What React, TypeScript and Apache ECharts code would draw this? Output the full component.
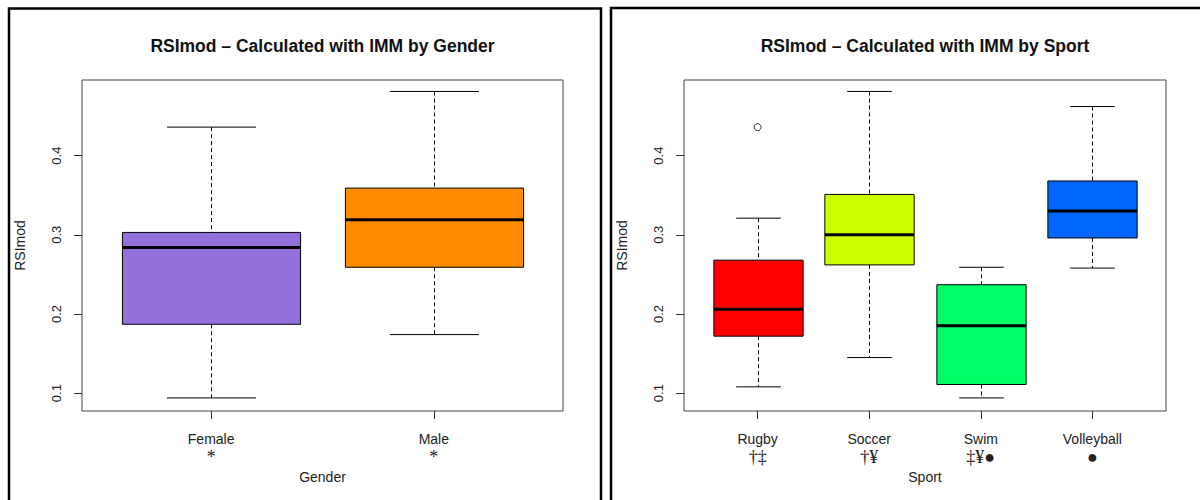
import React, { useEffect, useRef } from "react";
import * as echarts from "echarts";

// ---- Data ----
const GENDER_CATS = ["Female", "Male"];
const GENDER_MARKS = ["*", "*"];
// [lower whisker, Q1, median, Q3, upper whisker]
const GENDER_STATS = [
  [0.094, 0.187, 0.284, 0.303, 0.436],
  [0.174, 0.259, 0.319, 0.359, 0.481],
];
const GENDER_COLORS = ["#9370DB", "#FF8C00"];

const SPORT_CATS = ["Rugby", "Soccer", "Swim", "Volleyball"];
const SPORT_MARKS = ["†‡", "†¥", "‡¥●", "●"];
const SPORT_STATS = [
  [0.108, 0.172, 0.206, 0.268, 0.321],
  [0.145, 0.262, 0.3, 0.351, 0.481],
  [0.094, 0.111, 0.185, 0.237, 0.259],
  [0.258, 0.296, 0.33, 0.368, 0.462],
];
const SPORT_COLORS = ["#FF0000", "#CCFF00", "#00FF66", "#0066FF"];
// [category index (1-based), value]
const SPORT_OUTLIERS = [[1, 0.436]];

const Y_TICKS = [0.1, 0.2, 0.3, 0.4];
const Y_MIN = 0.0775;
const Y_MAX = 0.4955;

const FONT = '"Liberation Sans", Arial, sans-serif';
const SERIF = '"Liberation Serif", "DejaVu Serif", serif';

function makeRender(colors: string[]) {
  return (params: any, api: any) => {
    const x = api.value(0);
    const lo = api.coord([x, api.value(1)]);
    const q1 = api.coord([x, api.value(2)]);
    const md = api.coord([x, api.value(3)]);
    const q3 = api.coord([x, api.value(4)]);
    const hi = api.coord([x, api.value(5)]);
    const w = api.size([0.8, 0])[0];
    const cx = Math.round(lo[0]) + 0.5;
    const dashed = { stroke: "#000", lineWidth: 1, lineDash: [4, 3] };
    const solid = { stroke: "#000", lineWidth: 1 };
    return {
      type: "group",
      children: [
        { type: "line", shape: { x1: cx, y1: hi[1], x2: cx, y2: q3[1] }, style: dashed },
        { type: "line", shape: { x1: cx, y1: q1[1], x2: cx, y2: lo[1] }, style: dashed },
        { type: "line", shape: { x1: cx - w / 4, y1: hi[1], x2: cx + w / 4, y2: hi[1] }, style: solid },
        { type: "line", shape: { x1: cx - w / 4, y1: lo[1], x2: cx + w / 4, y2: lo[1] }, style: solid },
        {
          type: "rect",
          shape: { x: cx - w / 2, y: q3[1], width: w, height: q1[1] - q3[1] },
          style: { fill: colors[params.dataIndex], stroke: "#000", lineWidth: 1 },
        },
        { type: "line", shape: { x1: cx - w / 2, y1: md[1], x2: cx + w / 2, y2: md[1] }, style: { stroke: "#000", lineWidth: 3 } },
      ],
    };
  };
}

function xAxisFor(idx: number, cats: string[], marks: string[], name: string) {
  const n = cats.length;
  const ext = n * 0.04;
  const vals = cats.map((_, i) => i + 1);
  return {
    type: "value",
    gridIndex: idx,
    min: 0.5 - ext,
    max: n + 0.5 + ext,
    name,
    nameLocation: "middle",
    nameGap: 54,
    nameTextStyle: { fontFamily: FONT, fontSize: 14, color: "#222" },
    axisLine: { show: false, onZero: false },
    splitLine: { show: false },
    axisTick: { show: true, length: 8, customValues: vals, lineStyle: { color: "#333" } },
    axisLabel: {
      customValues: vals,
      margin: 19,
      formatter: (v: number) => {
        const i = Math.round(v) - 1;
        return `{a|${cats[i]}}\n{b|${marks[i]}}`;
      },
      rich: {
        a: { fontFamily: FONT, fontSize: 14, color: "#222", lineHeight: 17 },
        b: { fontFamily: SERIF, fontSize: 18, color: "#222", lineHeight: 19 },
      },
    },
  };
}

function yAxisFor(idx: number) {
  return {
    type: "value",
    gridIndex: idx,
    min: Y_MIN,
    max: Y_MAX,
    name: "RSImod",
    nameLocation: "middle",
    nameGap: 55,
    nameTextStyle: { fontFamily: FONT, fontSize: 14, color: "#222" },
    axisLine: { show: false },
    splitLine: { show: false },
    axisTick: { show: true, length: 8, customValues: Y_TICKS, lineStyle: { color: "#333" } },
    axisLabel: {
      customValues: Y_TICKS,
      rotate: 90,
      margin: 19,
      fontFamily: FONT,
      fontSize: 13,
      color: "#222",
      formatter: (v: number) => v.toFixed(1),
    },
  };
}

export default function App() {
  const ref = useRef<HTMLDivElement>(null);
  useEffect(() => {
    document.body.style.margin = "0";
    const chart = echarts.init(ref.current!, null, { renderer: "svg" });
    const genderData = GENDER_STATS.map((s, i) => [i + 1, ...s]);
    const sportData = SPORT_STATS.map((s, i) => [i + 1, ...s]);
    chart.setOption({
      animation: false,
      backgroundColor: "#fff",
      grid: [
        { left: 82, top: 80, width: 481, height: 331, show: true, borderColor: "#444", borderWidth: 1, backgroundColor: "transparent" },
        { left: 684, top: 80, width: 482, height: 331, show: true, borderColor: "#444", borderWidth: 1, backgroundColor: "transparent" },
      ],
      xAxis: [
        xAxisFor(0, GENDER_CATS, GENDER_MARKS, "Gender"),
        xAxisFor(1, SPORT_CATS, SPORT_MARKS, "Sport"),
      ],
      yAxis: [yAxisFor(0), yAxisFor(1)],
      series: [
        {
          type: "custom",
          xAxisIndex: 0,
          yAxisIndex: 0,
          data: genderData,
          encode: { x: 0, y: [1, 2, 3, 4, 5] },
          renderItem: makeRender(GENDER_COLORS),
        },
        {
          type: "custom",
          xAxisIndex: 1,
          yAxisIndex: 1,
          data: sportData,
          encode: { x: 0, y: [1, 2, 3, 4, 5] },
          renderItem: makeRender(SPORT_COLORS),
        },
        {
          type: "scatter",
          xAxisIndex: 1,
          yAxisIndex: 1,
          data: SPORT_OUTLIERS,
          symbol: "circle",
          symbolSize: 7,
          itemStyle: { color: "#fff", borderColor: "#000", borderWidth: 1 },
        },
      ],
      graphic: [
        {
          type: "rect",
          shape: { x: 9, y: 8.5, width: 592, height: 520 },
          style: { fill: "none", stroke: "#000", lineWidth: 2.5 },
          silent: true,
        },
        {
          type: "rect",
          shape: { x: 611, y: 8, width: 700, height: 520 },
          style: { fill: "none", stroke: "#000", lineWidth: 2.5 },
          silent: true,
        },
        {
          type: "text",
          x: 322.5,
          y: 46,
          style: {
            text: "RSImod – Calculated with IMM by Gender",
            align: "center",
            verticalAlign: "middle",
            fontFamily: FONT,
            fontWeight: "bold",
            fontSize: 17.5,
            fill: "#111",
          },
        },
        {
          type: "text",
          x: 925,
          y: 46,
          style: {
            text: "RSImod – Calculated with IMM by Sport",
            align: "center",
            verticalAlign: "middle",
            fontFamily: FONT,
            fontWeight: "bold",
            fontSize: 17.5,
            fill: "#111",
          },
        },
      ],
    });
    return () => chart.dispose();
  }, []);
  return <div ref={ref} style={{ width: 1200, height: 500 }} />;
}
